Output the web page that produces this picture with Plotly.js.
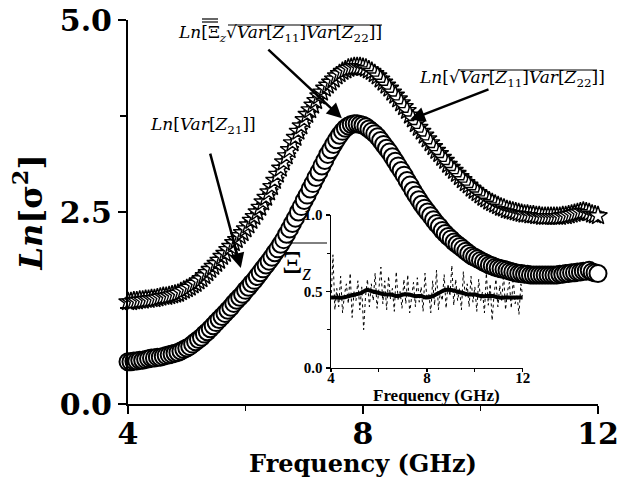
<!DOCTYPE html>
<html>
<head>
<meta charset="utf-8">
<script src="https://cdn.plot.ly/plotly-3.0.1.min.js"></script>
<style>html,body{margin:0;padding:0;background:#fff;}</style>
</head>
<body>
<div id="chart" style="width:641px;height:478px;"></div>
<script>
// Main curves, frequency 4..12 GHz step 0.05
const freqStart = 4, freqStep = 0.05;
const lnSqrtVar = [
  1.33,1.33,1.34,1.34,1.35,1.35,1.36,1.36,1.37,1.37,1.38,1.39,1.40,1.40,1.41,1.42,1.43,1.44,1.46,1.48,
  1.50,1.52,1.55,1.57,1.60,1.63,1.67,1.71,1.75,1.79,1.83,1.87,1.92,1.96,2.01,2.05,2.10,2.14,2.19,2.23,
  2.28,2.33,2.39,2.44,2.50,2.56,2.63,2.69,2.76,2.83,2.91,2.99,3.07,3.15,3.23,3.31,3.40,3.47,3.55,3.62,
  3.70,3.77,3.83,3.89,3.95,4.01,4.06,4.11,4.15,4.19,4.23,4.27,4.30,4.33,4.35,4.37,4.38,4.39,4.39,4.39,
  4.38,4.37,4.35,4.33,4.30,4.27,4.23,4.19,4.15,4.11,4.06,4.02,3.97,3.92,3.87,3.82,3.76,3.71,3.65,3.60,
  3.55,3.50,3.45,3.40,3.35,3.30,3.26,3.21,3.17,3.12,3.08,3.04,3.00,2.96,2.92,2.88,2.85,2.81,2.78,2.75,
  2.72,2.69,2.67,2.64,2.62,2.60,2.58,2.56,2.55,2.53,2.52,2.51,2.50,2.49,2.48,2.47,2.47,2.46,2.46,2.45,
  2.45,2.44,2.44,2.44,2.44,2.44,2.44,2.44,2.45,2.45,2.46,2.47,2.48,2.49,2.50,2.51,2.50,2.49,2.47,2.46,2.45];
const lnVarZ21 = [
  0.55,0.55,0.56,0.56,0.57,0.57,0.58,0.59,0.60,0.60,0.61,0.61,0.62,0.63,0.64,0.65,0.66,0.67,0.69,0.71,
  0.73,0.75,0.78,0.81,0.84,0.87,0.91,0.94,0.98,1.02,1.06,1.10,1.14,1.18,1.22,1.26,1.31,1.35,1.39,1.43,
  1.48,1.52,1.57,1.61,1.66,1.71,1.76,1.81,1.86,1.91,1.97,2.02,2.08,2.14,2.21,2.28,2.35,2.42,2.50,2.57,
  2.65,2.72,2.80,2.87,2.95,3.02,3.10,3.17,3.25,3.31,3.38,3.44,3.50,3.55,3.59,3.62,3.64,3.65,3.65,3.64,
  3.63,3.61,3.58,3.55,3.52,3.48,3.43,3.38,3.33,3.28,3.22,3.16,3.10,3.04,2.98,2.91,2.85,2.78,2.72,2.66,
  2.60,2.55,2.50,2.45,2.40,2.35,2.31,2.26,2.22,2.18,2.15,2.11,2.08,2.05,2.02,1.99,1.96,1.93,1.91,1.89,
  1.87,1.85,1.83,1.81,1.80,1.78,1.77,1.76,1.75,1.74,1.73,1.72,1.71,1.70,1.70,1.69,1.69,1.68,1.68,1.68,
  1.68,1.68,1.68,1.68,1.68,1.68,1.68,1.69,1.69,1.70,1.70,1.71,1.71,1.72,1.72,1.73,1.73,1.74,1.72,1.71,1.70];
// Inset: raw and smoothed Xi_z
const rawStep = 0.08;
const xiRaw = [0.45,0.74,0.38,0.52,0.40,0.60,0.36,0.48,0.55,0.42,
  0.62,0.33,0.50,0.44,0.57,0.38,0.53,0.25,0.47,0.58,
  0.40,0.55,0.44,0.62,0.39,0.51,0.66,0.42,0.57,0.38,
  0.60,0.45,0.52,0.37,0.63,0.44,0.50,0.39,0.58,0.42,
  0.61,0.36,0.48,0.56,0.40,0.59,0.43,0.53,0.37,0.62,
  0.45,0.49,0.36,0.57,0.41,0.64,0.38,0.50,0.44,0.61,
  0.39,0.55,0.47,0.67,0.41,0.58,0.44,0.52,0.38,0.63,
  0.46,0.55,0.40,0.60,0.43,0.53,0.37,0.58,0.44,0.50,
  0.36,0.62,0.41,0.55,0.31,0.48,0.58,0.40,0.54,0.44,
  0.61,0.38,0.50,0.56,0.39,0.59,0.42,0.48,0.35,0.55,0.47];
const smoothStep = 0.25;
const xiSmooth = [0.46,0.46,0.46,0.47,0.48,0.49,0.51,0.50,0.49,0.48,0.48,
  0.47,0.48,0.48,0.47,0.47,0.46,0.47,0.49,0.51,0.51,0.50,
  0.49,0.48,0.48,0.47,0.47,0.47,0.46,0.46,0.46,0.46,0.46];

const mainTickVals = [4, 8, 12];
const mainTickText = ['4', '8', '12'];
const yTickVals = [0, 2.5, 5];
const yTickText = ['0.0', '2.5', '5.0'];
const insetYTickText = ['0.0', '0.5', '1.0'];

function grid(start, step, n) { const a = []; for (let i = 0; i < n; i++) a.push(+(start + i * step).toFixed(3)); return a; }
const freq = grid(freqStart, freqStep, lnSqrtVar.length);
const freqRaw = grid(4, rawStep, xiRaw.length);
const freqSmooth = grid(4, smoothStep, xiSmooth.length);

const serif = 'DejaVu Serif';
const times = 'Liberation Serif';

// pixel -> paper helpers for decorative overlines
const PL = 128, PW = 470, PB = 404, PH = 384;
const fx = px => (px - PL) / PW;
const fy = py => (PB - py) / PH;
function hline(x0, x1, y, w) {
  return {type: 'line', xref: 'paper', yref: 'paper', x0: fx(x0), x1: fx(x1), y0: fy(y), y1: fy(y), line: {color: '#000', width: w || 1}};
}

const traces = [
  {x: freqRaw, y: xiRaw, xaxis: 'x2', yaxis: 'y2', mode: 'lines', line: {color: '#000', width: 1, dash: 'dot'}},
  {x: freqSmooth, y: xiSmooth, xaxis: 'x2', yaxis: 'y2', mode: 'lines', line: {color: '#000', width: 4, shape: 'spline'}},
  {x: freq, y: lnSqrtVar, mode: 'markers', cliponaxis: false,
   marker: {symbol: 'star', size: 14, color: '#fff', line: {color: '#000', width: 1.4}}},
  {x: freq, y: lnVarZ21, mode: 'markers', cliponaxis: false,
   marker: {symbol: 'circle', size: 17, color: '#fff', line: {color: '#000', width: 2}}}
];

const arrowStyle = {showarrow: true, text: '', arrowhead: 2, arrowsize: 1.2, arrowwidth: 2.5, arrowcolor: '#000', standoff: 0, xref: 'x', yref: 'y'};
const labelFont = {family: serif, size: 17, color: '#000'};

const layout = {
  width: 641, height: 478,
  margin: {l: 128, r: 43, t: 20, b: 74},
  paper_bgcolor: '#fff', plot_bgcolor: 'rgba(0,0,0,0)',
  showlegend: false,
  font: {family: serif, color: '#000'},
  xaxis: {
    range: [4, 12], tickvals: mainTickVals, ticktext: mainTickText.map(t => '<b>' + t + '</b>'),
    ticks: 'outside', ticklen: 8, tickwidth: 2, tickcolor: '#000', ticklabelstandoff: -6,
    showline: true, linewidth: 2, linecolor: '#000', showgrid: false, zeroline: false,
    tickfont: {family: serif, size: 30},
    minor: {tickvals: [6, 10], ticks: 'outside', ticklen: 5, tickwidth: 1.5, tickcolor: '#000', showgrid: false},
    title: {text: '<b>Frequency (GHz)</b>', font: {family: serif, size: 24}, standoff: 9}
  },
  yaxis: {
    range: [0, 5], tickvals: yTickVals, ticktext: yTickText.map(t => '<b>' + t + '</b>'),
    ticks: 'outside', ticklen: 8, tickwidth: 2, tickcolor: '#000',
    showline: true, linewidth: 2, linecolor: '#000', showgrid: false, zeroline: false,
    tickfont: {family: serif, size: 30},
    minor: {tickvals: [1.25, 3.75], ticks: 'outside', ticklen: 6, tickwidth: 1.5, tickcolor: '#000', showgrid: false},
    title: {text: '<b><i>Ln</i>[σ<sup>2</sup>]</b>', font: {family: serif, size: 32}, standoff: 8}
  },
  xaxis2: {
    anchor: 'y2', domain: [0.432, 0.840], range: [4, 12], tickvals: mainTickVals,
    ticktext: mainTickText.map(t => '<b>' + t + '</b>'),
    ticks: 'outside', ticklen: 3, tickwidth: 1.2, tickcolor: '#000', ticklabelstandoff: -7,
    showline: true, linewidth: 1.5, linecolor: '#000', showgrid: false, zeroline: false,
    tickfont: {family: times, size: 15},
    minor: {tickvals: [6, 10], ticks: 'outside', ticklen: 3, tickwidth: 1, tickcolor: '#000', showgrid: false}
  },
  yaxis2: {
    anchor: 'x2', domain: [0.094, 0.492], range: [0, 1], tickvals: [0, 0.5, 1],
    ticktext: insetYTickText.map(t => '<b>' + t + '</b>'),
    ticks: 'outside', ticklen: 4, tickwidth: 1.2, tickcolor: '#000',
    showline: true, linewidth: 1.5, linecolor: '#000', showgrid: false, zeroline: false,
    tickfont: {family: times, size: 15},
    minor: {tickvals: [0.25, 0.75], ticks: 'outside', ticklen: 3, tickwidth: 1, tickcolor: '#000', showgrid: false}
  },
  annotations: [
    Object.assign({x: 5.92, y: 1.77, ax: -31, ay: -116}, arrowStyle),
    Object.assign({x: 7.64, y: 3.72, ax: -75, ay: -70}, arrowStyle),
    Object.assign({x: 8.80, y: 3.70, ax: 80, ay: -31}, arrowStyle),
    {xref: 'x', yref: 'y', x: 5.28, y: 3.63, showarrow: false, font: labelFont,
     text: '<i>Ln</i>[<i>Var</i>[<i>Z</i><sub>21</sub>]]'},
    {xref: 'x', yref: 'y', x: 6.59, y: 4.83, showarrow: false, font: labelFont,
     text: '<i>Ln</i>[Ξ<sub><i>z</i></sub>√<i>Var</i>[<i>Z</i><sub>11</sub>]<i>Var</i>[<i>Z</i><sub>22</sub>]]'},
    {xref: 'x', yref: 'y', x: 10.54, y: 4.24, showarrow: false, font: labelFont,
     text: '<i>Ln</i>[√<i>Var</i>[<i>Z</i><sub>11</sub>]<i>Var</i>[<i>Z</i><sub>22</sub>]]'},
    {xref: 'paper', yref: 'paper', x: fx(297), y: fy(264), xanchor: 'center', yanchor: 'middle', showarrow: false,
     font: {family: times, size: 32, color: '#000'}, text: 'Ξ<sub><i>z</i></sub>'},
    {xref: 'paper', yref: 'paper', x: fx(436), y: fy(395), xanchor: 'center', yanchor: 'middle', showarrow: false,
     font: {family: times, size: 17, color: '#000'}, text: '<b>Frequency (GHz)</b>'}
  ],
  shapes: [
    hline(288, 327, 243, 1),
    hline(228, 382, 25, 1.2),
    hline(202, 218, 19, 1.2),
    hline(202, 218, 22, 1.2),
    hline(458, 597, 70, 1.2)
  ]
};

Plotly.newPlot('chart', traces, layout, {displayModeBar: false, staticPlot: true});
</script>
</body>
</html>
